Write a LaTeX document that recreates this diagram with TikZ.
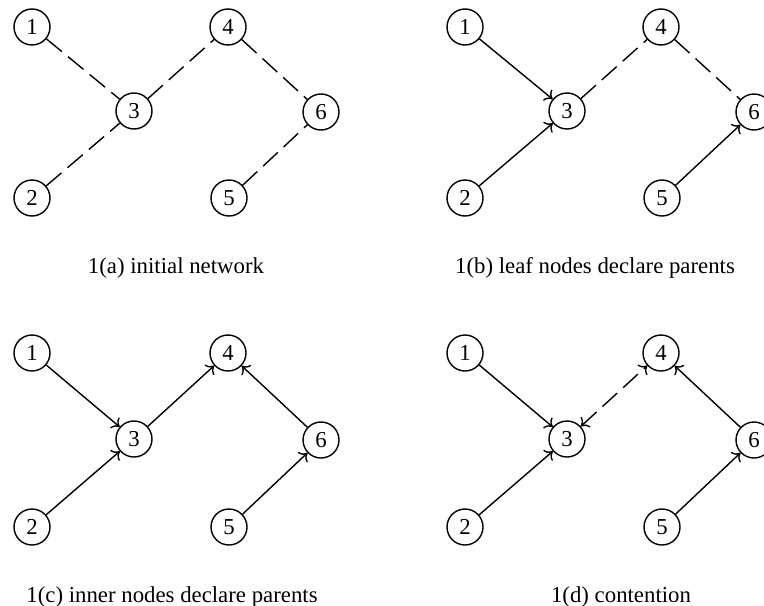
\documentclass[tikz,border=0pt]{standalone}
\usepackage{fontspec}
\setmainfont{Liberation Serif}
\usepackage{tikz}
\usetikzlibrary{arrows.meta}

\tikzset{
  vtx/.style={draw,circle,line width=0.7pt,minimum size=18pt,inner sep=0pt},
  wait/.style={line width=0.7pt,dash pattern=on 10pt off 4pt},
  par/.style={line width=0.7pt,-{To[length=3.5pt,width=7pt]}},
  both/.style={line width=0.7pt,{To[length=3.5pt,width=7pt]}-{To[length=3.5pt,width=7pt]}},
  capt/.style={inner sep=0pt}
}

\begin{document}
\begin{tikzpicture}[x=0.5pt,y=-0.5pt,font=\fontsize{11.4}{13}\selectfont]
\useasboundingbox (0,0) rectangle (764,605);
%put nodes
%Case 1(a)
\node[vtx] (a1) at (32,27) {1};
\node[vtx] (a2) at (32,198) {2};
\node[vtx] (a3) at (134,111) {3};
\node[vtx] (a4) at (228,27) {4};
\node[vtx] (a5) at (229,198) {5};
\node[vtx] (a6) at (321,112) {6};
%Case 1(b)
\node[vtx] (b1) at (465,27) {1};
\node[vtx] (b2) at (465,198) {2};
\node[vtx] (b3) at (567,111) {3};
\node[vtx] (b4) at (661,27) {4};
\node[vtx] (b5) at (662,198) {5};
\node[vtx] (b6) at (754,112) {6};
%Case 1(c)
\node[vtx] (c1) at (32,353) {1};
\node[vtx] (c2) at (32,527) {2};
\node[vtx] (c3) at (134,439) {3};
\node[vtx] (c4) at (228,353) {4};
\node[vtx] (c5) at (229,527) {5};
\node[vtx] (c6) at (321,440) {6};
%Case 1(d)
\node[vtx] (d1) at (465,353) {1};
\node[vtx] (d2) at (465,527) {2};
\node[vtx] (d3) at (567,439) {3};
\node[vtx] (d4) at (661,353) {4};
\node[vtx] (d5) at (662,527) {5};
\node[vtx] (d6) at (754,440) {6};

%plot the edges
%Case 1(a)
\draw[wait] (a1) to (a3);
\draw[wait] (a2) to (a3);
\draw[wait] (a3) to (a4);
\draw[wait] (a4) to (a6);
\draw[wait] (a5) to (a6);
%Case 1(b)
\draw[par] (b1) to (b3);
\draw[par] (b2) to (b3);
\draw[wait] (b3) to (b4);
\draw[wait] (b4) to (b6);
\draw[par] (b5) to (b6);
%Case 1(c)
\draw[par] (c1) to (c3);
\draw[par] (c2) to (c3);
\draw[par] (c3) to (c4);
\draw[par] (c6) to (c4);
\draw[par] (c5) to (c6);
%Case 1(d)
\draw[par] (d1) to (d3);
\draw[par] (d2) to (d3);
\draw[both,wait] (d3) to (d4);
\draw[par] (d6) to (d4);
\draw[par] (d5) to (d6);

%caption
\node[capt] (capa) at (176,268) {1(a) initial network};
\node[capt] (capb) at (595,268) {1(b) leaf nodes declare parents};
\node[capt] (capc) at (172,597) {1(c) inner nodes declare parents};
\node[capt] (capd) at (621,597) {1(d) contention};
\end{tikzpicture}
\end{document}
